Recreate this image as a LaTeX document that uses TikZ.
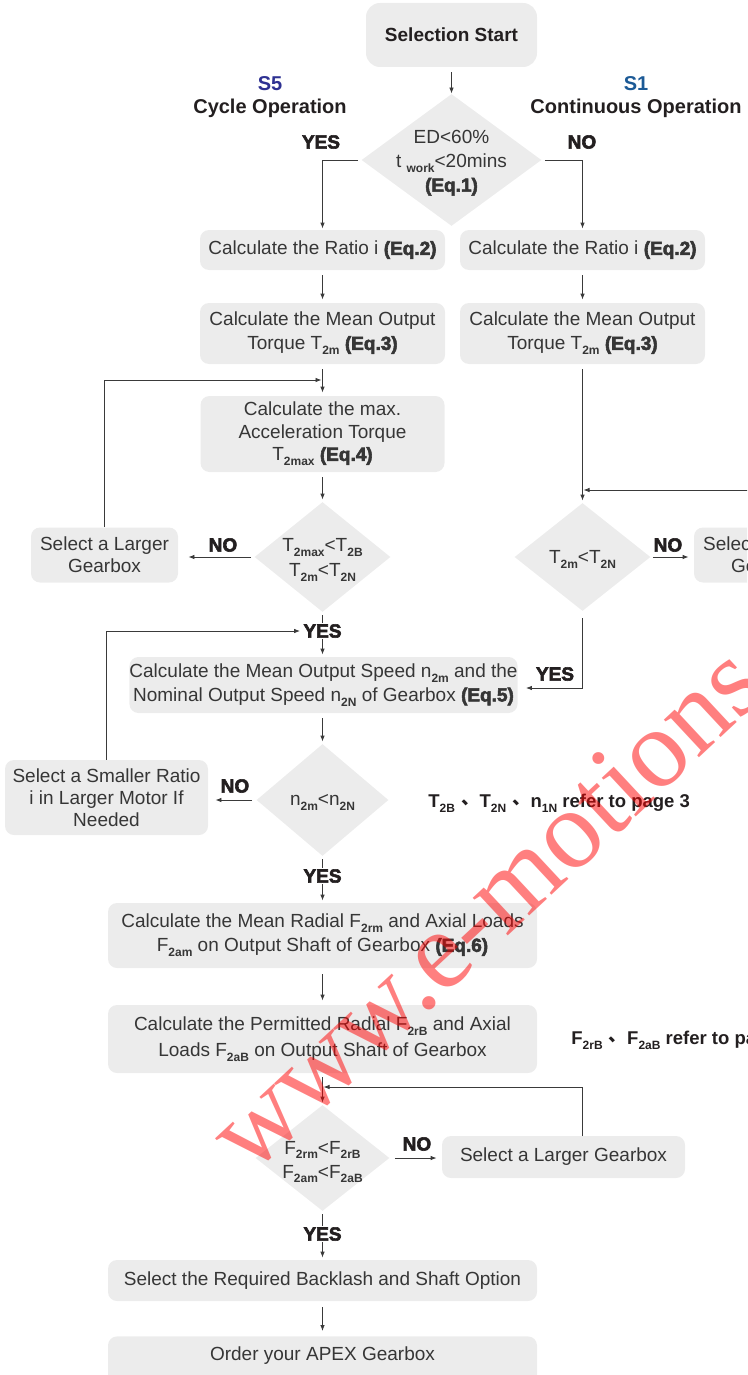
\documentclass[tikz,border=0pt]{standalone}
\usepackage{fontspec}
\setmainfont{Liberation Sans}
\newfontfamily\blk{Liberation Sans}[BoldFeatures={FakeBold=3}]
\newfontfamily\wmf{Liberation Serif}
\newfontfamily\cjk{Noto Sans CJK SC}
\usetikzlibrary{shapes.geometric,arrows.meta}
\definecolor{boxg}{HTML}{ECECEC}
\definecolor{txt}{HTML}{363636}
\definecolor{dark}{HTML}{231F20}
\definecolor{lc}{HTML}{3A3A3A}
\definecolor{sfive}{HTML}{2E3192}
\definecolor{sone}{HTML}{1C5A96}
\newcommand\sbs[1]{\raisebox{-0.26em}{\fontsize{12}{12}\selectfont\bfseries #1}}
\newcommand\eqn[1]{{\blk\bfseries (Eq.#1)}}
\newcommand\sepmark{\hspace{6pt}\raisebox{3pt}{\cjk 、}}
\begin{document}
\begin{tikzpicture}[x=1pt,y=-1pt,text=txt,line width=0.8pt,
  box/.style={fill=boxg, rounded corners=9pt, align=center, inner sep=0pt, font=\fontsize{19}{24}\selectfont},
  dia/.style={diamond, fill=boxg, inner sep=0pt},
  dtext/.style={align=center, inner sep=0pt, font=\fontsize{19}{24}\selectfont},
  lab/.style={inner sep=1pt, text=dark, font=\fontsize{19}{19}\selectfont\blk\bfseries},
  note/.style={inner sep=0pt, anchor=west, text=dark, font=\fontsize{18.5}{18.5}\selectfont\bfseries},
  head/.style={inner sep=0pt, font=\fontsize{20}{20}\selectfont\bfseries},
  arr/.style={draw=lc, -{Latex[length=6pt,width=4.5pt]}},
  ln/.style={draw=lc}]
\useasboundingbox (0,0) rectangle (747,1375);
\clip (0,0) rectangle (747,1375);

% ---- nodes
\node[box, minimum width=171, minimum height=64, rounded corners=14pt, text=dark,
      font=\fontsize{19}{19}\selectfont\bfseries] (start) at (451.5,35) {Selection Start};
\node[head, text=sfive] (s5) at (270,84) {S5};
\node[head, text=dark] (s5t) at (270,108) {Cycle Operation};
\node[head, text=sone] (s1) at (636,84) {S1};
\node[head, text=dark] (s1t) at (636,108) {Continuous Operation};

\node[dia, minimum width=180, minimum height=132] (d1) at (451.5,160) {};
\node[dtext] (d1t) at (451.5,163) {ED<60\%\\t \sbs{work}<20mins\\\eqn{1}};
\node[lab] (yes1) at (321,142) {YES};
\node[lab] (no1) at (582,142) {NO};

\node[box, minimum width=245, minimum height=40] (ratL) at (322.5,250) {Calculate the Ratio i \eqn{2}};
\node[box, minimum width=245, minimum height=40] (ratR) at (582.5,250) {Calculate the Ratio i \eqn{2}};
\node[box, minimum width=245, minimum height=61] (tqL) at (322.5,333.5) {Calculate the Mean Output\\Torque T\sbs{2m} \eqn{3}};
\node[box, minimum width=245, minimum height=61] (tqR) at (582.5,333.5) {Calculate the Mean Output\\Torque T\sbs{2m} \eqn{3}};
\node[box, minimum width=244, minimum height=76, font=\fontsize{19}{22.5}\selectfont] (acc) at (322.5,434) {Calculate the max.\\Acceleration Torque\\T\sbs{2max} \eqn{4}};

\node[dia, minimum width=136, minimum height=110] (d2) at (322.5,557) {};
\node[dtext, font=\fontsize{19}{25}\selectfont] (d2t) at (322.5,560) {T\sbs{2max}<T\sbs{2B}\\T\sbs{2m}<T\sbs{2N}};
\node[lab] (no2) at (223,545) {NO};
\node[box, minimum width=147, minimum height=55, font=\fontsize{19}{22}\selectfont] (lg1) at (104.5,555) {Select a Larger\\Gearbox};

\node[dia, minimum width=136, minimum height=108] (d3) at (582.5,557) {};
\node[dtext] (d3t) at (582.5,559) {T\sbs{2m}<T\sbs{2N}};
\node[lab] (no3) at (668,545) {NO};
\node[box, minimum width=147, minimum height=55, font=\fontsize{19}{22}\selectfont] (lg2) at (767.5,555) {Select a Larger\\Gearbox};

\node[lab] (yes2) at (322.5,631) {YES};
\node[box, minimum width=387, minimum height=56] (sp) at (323.5,685) {Calculate the Mean Output Speed n\sbs{2m} and the\\Nominal Output Speed n\sbs{2N} of Gearbox \eqn{5}};
\node[lab] (yes3) at (555,674) {YES};

\node[dia, minimum width=132, minimum height=112] (d4) at (322.5,800) {};
\node[dtext] (d4t) at (322.5,802) {n\sbs{2m}<n\sbs{2N}};
\node[lab] (no4) at (235,786) {NO};
\node[box, minimum width=203, minimum height=75, font=\fontsize{19}{22}\selectfont] (sr) at (106.5,797.5) {Select a Smaller Ratio\\i in Larger Motor If\\Needed};
\node[note] (n1) at (428,803) {T\sbs{2B}\sepmark T\sbs{2N}\sepmark n\sbs{1N} refer to page 3};

\node[lab] (yes4) at (322.5,876) {YES};
\node[box, minimum width=429, minimum height=65] (ld) at (322.5,935.5) {Calculate the Mean Radial F\sbs{2rm} and Axial Loads\\F\sbs{2am} on Output Shaft of Gearbox \eqn{6}};
\node[box, minimum width=429, minimum height=68, font=\fontsize{19}{26}\selectfont] (pm) at (322.5,1039) {Calculate the Permitted Radial F\sbs{2rB} and Axial\\Loads F\sbs{2aB} on Output Shaft of Gearbox};
\node[note] (n2) at (571,1040) {F\sbs{2rB}\sepmark F\sbs{2aB} refer to page};

\node[dia, minimum width=134, minimum height=106] (d5) at (322.5,1158) {};
\node[dtext] (d5t) at (322.5,1162) {F\sbs{2rm}<F\sbs{2rB}\\F\sbs{2am}<F\sbs{2aB}};
\node[lab] (no5) at (417,1144) {NO};
\node[box, minimum width=243, minimum height=42] (lg3) at (563.5,1157) {Select a Larger Gearbox};

\node[lab] (yes5) at (322.5,1234) {YES};
\node[box, minimum width=429, minimum height=41] (bk) at (322.5,1280.5) {Select the Required Backlash and Shaft Option};
\node[box, minimum width=429, minimum height=50, anchor=north] (od) at (322.5,1336) {};
\node[inner sep=0pt, font=\fontsize{19}{19}\selectfont] (odt) at (322.5,1356) {Order your APEX Gearbox};

\coordinate (m1) at (321.5,380);
\coordinate (m2) at (583.5,490);
\coordinate (m3) at (323.5,1087);
\coordinate (c3) at (582,1136);

% ---- connectors
\draw[arr, shorten <=5pt] (start.south) -- (d1.north);
\draw[arr, shorten <=3pt, shorten >=1pt] (d1.west) -| (ratL.north);
\draw[arr, shorten <=3pt, shorten >=1pt] (d1.east) -| (ratR.north);
\draw[arr, shorten <=5pt, shorten >=3pt] (ratL.south) -- (tqL.north);
\draw[arr, shorten <=5pt, shorten >=3pt] (ratR.south) -- (tqR.north);
\draw[arr, shorten <=5pt, shorten >=3pt] (tqL.south) -- (acc.north);
\draw[arr] (lg1.north) |- (m1);
\draw[arr, shorten <=5pt, shorten >=2pt] (acc.south) -- (d2.north);
\draw[arr, shorten <=3pt, shorten >=10pt] (d2.west) -- (d2.west -| lg1.east);
\draw[ln, shorten <=3pt] (d2.south) -- (yes2.north);
\draw[arr, shorten >=2pt] (yes2.south) -- (yes2.south |- sp.north);
\draw[arr, shorten >=2pt] (sr.north) |- (yes2.west);

\draw[arr, shorten <=5pt, shorten >=2pt] (tqR.south) -- (d3.north);
\draw[arr] (lg2.north) |- (m2);
\draw[arr, shorten <=2pt, shorten >=5pt] (d3.east) -- (d3.east -| lg2.west);
\draw[arr, shorten <=7pt, shorten >=8pt] (d3.south) |- ([yshift=-3pt]sp.east);

\draw[arr, shorten <=5pt, shorten >=2pt] (sp.south -| d4) -- (d4.north);
\draw[arr, shorten <=4pt, shorten >=7pt] (d4.west) -- (d4.west -| sr.east);
\draw[ln, shorten <=3pt] (d4.south) -- (yes4.north);
\draw[arr, shorten >=2pt] (yes4.south) -- (ld.north);
\draw[arr, shorten <=6pt, shorten >=4pt] (ld.south) -- (pm.north);
\draw[arr, shorten <=4pt, shorten >=2pt] (pm.south) -- (d5.north);
\draw[arr] (c3) |- (m3);
\draw[arr, shorten <=5pt, shorten >=5pt] (d5.east) -- (d5.east -| lg3.west);
\draw[ln, shorten <=3pt] (d5.south) -- (yes5.north);
\draw[arr, shorten >=2pt] (yes5.south) -- (bk.north);
\draw[arr, shorten <=6pt, shorten >=5pt] (bk.south) -- (od.north);

% ---- watermark
\node[inner sep=0pt, anchor=base west, rotate=43, text=red, opacity=0.5,
      font=\fontsize{112}{112}\wmf] (wm) at (250,1177) {www.e-motions.com.tw};
\end{tikzpicture}
\end{document}
